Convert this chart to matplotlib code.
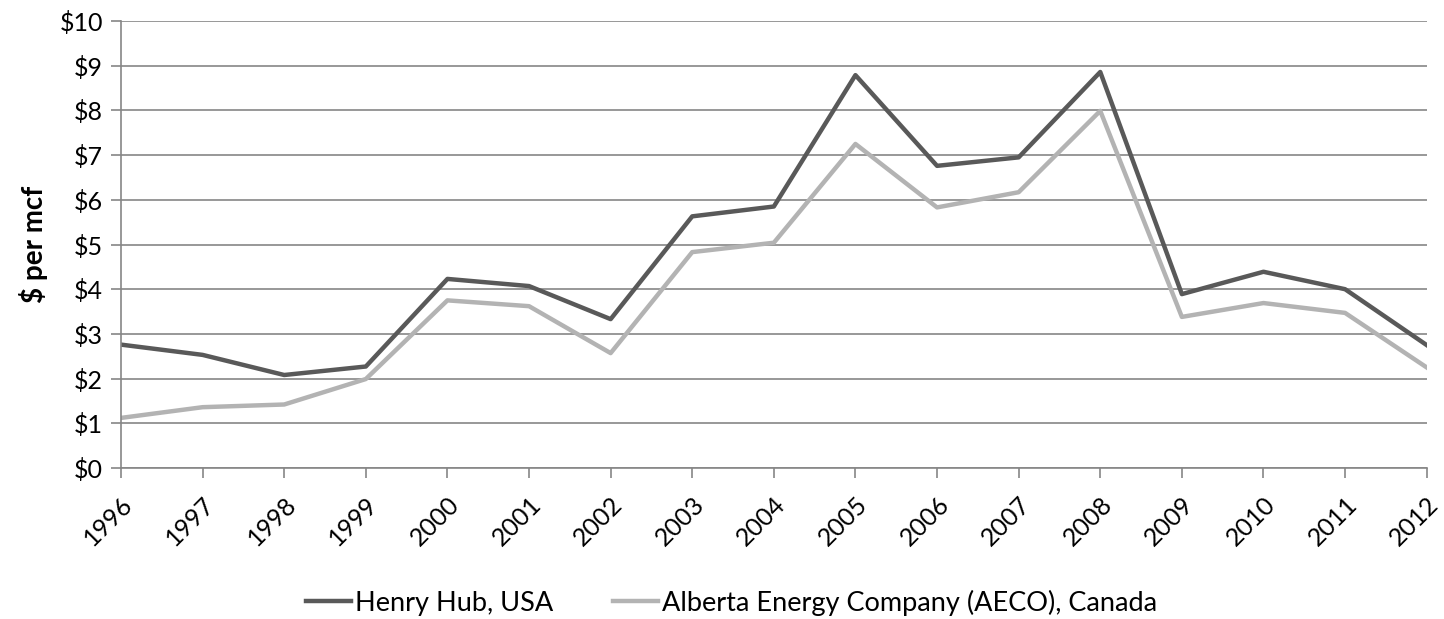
import matplotlib.pyplot as plt

plt.rcParams['font.family'] = ['Lato', 'DejaVu Sans']

years = list(range(1996, 2013))
henry_hub = [2.76, 2.53, 2.08, 2.27, 4.23, 4.07, 3.33, 5.63, 5.85, 8.79,
             6.76, 6.95, 8.86, 3.89, 4.39, 4.00, 2.75]
aeco = [1.12, 1.36, 1.42, 1.99, 3.75, 3.62, 2.57, 4.83, 5.04, 7.25,
        5.83, 6.17, 7.99, 3.38, 3.69, 3.47, 2.25]
yticks = list(range(0, 11))

fig = plt.figure(figsize=(14.44, 6.19), dpi=100)
ax = fig.add_axes([0.0838, 0.244, 0.9042, 0.722])

ax.plot(years, henry_hub, color='#595959', lw=3.2, label='Henry Hub, USA')
ax.plot(years, aeco, color='#b3b3b3', lw=3.2,
        label='Alberta Energy Company (AECO), Canada')

ax.set_xlim(1996, 2012)
ax.set_ylim(0, 10)
ax.set_yticks(yticks)
ax.set_yticklabels(['$%d' % v for v in yticks])
ax.set_xticks(years)
ax.set_xticklabels([str(y) for y in years], rotation=45, ha='right',
                   va='top', rotation_mode='anchor')
ax.yaxis.grid(True, color='#868686', lw=1.2)
ax.set_axisbelow(True)

for s in ['top', 'right']:
    ax.spines[s].set_visible(False)
for s in ['left', 'bottom']:
    ax.spines[s].set_color('#868686')
    ax.spines[s].set_linewidth(1.2)
ax.tick_params(axis='both', colors='#868686', labelcolor='black',
               labelsize=18, length=7, width=1.2)
ax.tick_params(axis='y', pad=6)
ax.tick_params(axis='x', pad=11)

ax.set_ylabel('$ per mcf', fontsize=20, fontweight='bold', labelpad=8)

fig.legend(loc='center', bbox_to_anchor=(0.5066, 0.026), ncol=2,
           frameon=False, fontsize=19.5, handlelength=1.67,
           handletextpad=0.15, columnspacing=2.2)

fig.savefig('out.png', dpi=100)
